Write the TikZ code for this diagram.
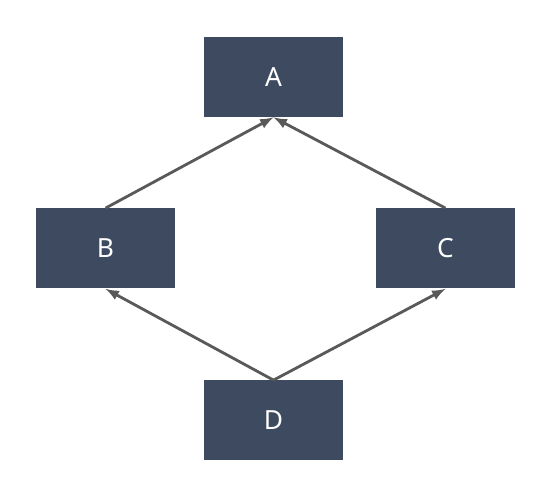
\documentclass[tikz,border=0pt]{standalone}
\usepackage{fontspec}
\setmainfont{Noto Sans}
\definecolor{boxfill}{HTML}{3D4A5F}
\definecolor{arrowgray}{HTML}{595959}
\tikzset{
  blockbox/.style={rectangle, fill=boxfill, text=white, minimum width=2.78cm, minimum height=1.6cm, inner sep=0pt, font=\fontsize{15}{18}\selectfont},
  linkarrow/.style={->, >=latex, draw=arrowgray, line width=1.6pt}
}
\begin{document}
\begin{tikzpicture}[scale=1]
            \useasboundingbox (0, 0) rectangle (10.94, 10);

            \node[blockbox] (A) at (5.47, 8.46) {A};
            \node[blockbox] (B) at (2.11, 5.03) {B};
            \node[blockbox] (C) at (8.91, 5.03) {C};
            \node[blockbox] (D) at (5.47, 1.59) {D};

            \draw [linkarrow] (B.north) -- (A.south);
            \draw [linkarrow] (C.north) -- (A.south);
            \draw [linkarrow] (D.north) -- (B.south);
            \draw [linkarrow] (D.north) -- (C.south);
          \end{tikzpicture}
\end{document}
